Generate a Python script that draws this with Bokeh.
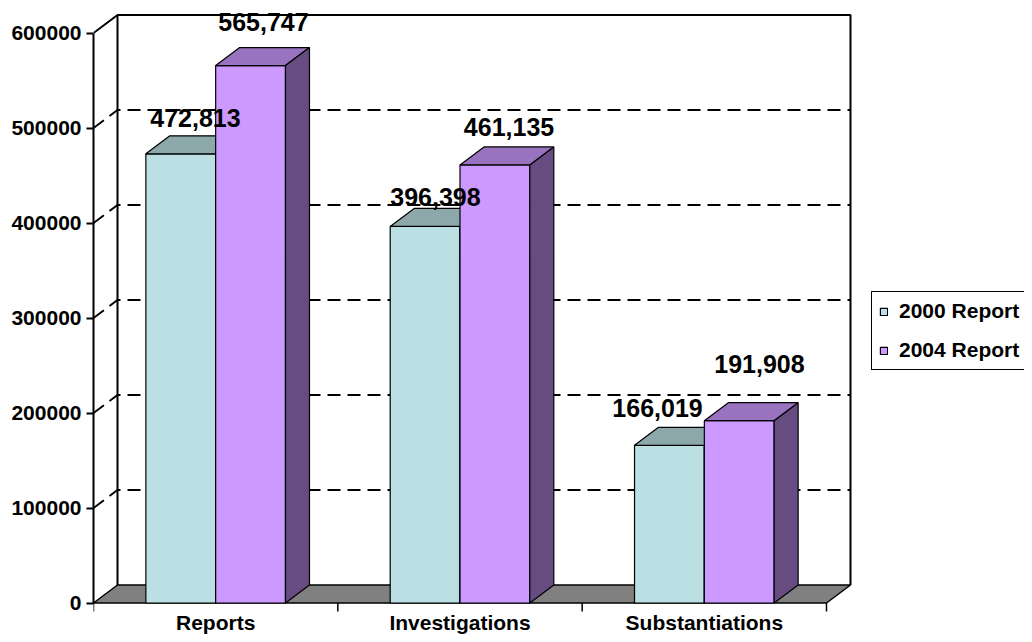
from bokeh.plotting import figure
from bokeh.models import (ColumnDataSource, Range1d, LinearAxis, FixedTicker,
                          BasicTickFormatter, Legend, LegendItem)
from bokeh.core.properties import value
from bokeh.embed import file_html
from bokeh.resources import INLINE

# ---------------- data ----------------
categories = ["Reports", "Investigations", "Substantiations"]
series_names = ["2000 Report", "2004 Report"]
values_2000 = [472813, 396398, 166019]
values_2004 = [565747, 461135, 191908]
y_ticks = [0, 100000, 200000, 300000, 400000, 500000, 600000]

# ---------------- styling / layout ----------------
FONT = "Liberation Sans"
W, H = 1024, 634
FRAME_LEFT = 93
PX_PER_CAT = 733 / 3.0           # px per category unit
PX_PER_VAL = 570 / 600000.0      # px per value unit
ZERO_FROM_BOTTOM = 31.5          # px from frame bottom to value 0
DEPTH_X_PX, DEPTH_Y_PX = 24, 18  # 3-D depth offset in px
BAR_W = 1 / 3.5                  # gap width 150 %
FIRST_OFF = 0.75 * BAR_W

front_cols = ["#BBE0E3", "#CC99FF"]
top_cols = ["#8CA8AA", "#9973BF"]
side_cols = ["#5E7072", "#664C80"]
floor_col = "#808080"

# label offsets in px (x shift, rise above the bar's front top)
label_dx = [14.7, 12.9, 10.4, 14.1, -11.9, 20.2]
label_rise = [35.8, 44.0, 29.9, 37.9, 37.3, 56.2]

frame_w = W - FRAME_LEFT
frame_h = H
n_cat = len(categories)
x_range = Range1d(0, frame_w / PX_PER_CAT)
y_range = Range1d(-ZERO_FROM_BOTTOM / PX_PER_VAL, (frame_h - ZERO_FROM_BOTTOM) / PX_PER_VAL)
dx = DEPTH_X_PX / PX_PER_CAT
dy = DEPTH_Y_PX / PX_PER_VAL
ymax = y_ticks[-1]

p = figure(width=W, height=H, x_range=x_range, y_range=y_range,
           output_backend="svg", toolbar_location=None,
           x_axis_type=None, y_axis_type=None,
           min_border_left=FRAME_LEFT, min_border_right=0,
           min_border_top=0, min_border_bottom=0)
p.outline_line_color = None
p.background_fill_color = "white"
p.border_fill_color = "white"

# ---------------- walls ----------------
p.patch([dx, n_cat + dx, n_cat + dx, dx], [dy, dy, ymax + dy, ymax + dy],
        fill_color="white", line_color=None)
p.line([0, dx, n_cat + dx, n_cat + dx], [ymax, ymax + dy, ymax + dy, dy],
       line_color="black", line_width=2)
p.line([dx, dx], [dy, ymax + dy], line_color="black", line_width=2)

# dashed gridlines on left wall + back wall
grid_levels = [t for t in y_ticks if 0 < t < ymax]
p.multi_line(xs=[[0, dx, n_cat + dx] for _ in grid_levels],
             ys=[[t, t + dy, t + dy] for t in grid_levels],
             line_color="black", line_width=2, line_dash="13 7")

# floor
p.patch([0, n_cat, n_cat + dx, dx], [0, 0, dy, dy],
        fill_color=floor_col, line_color="black", line_width=1.5)

# ---------------- bars ----------------
series_vals = [values_2000, values_2004]
fronts = []
for s, vals in enumerate(series_vals):
    lefts = [i + FIRST_OFF + s * BAR_W for i in range(n_cat)]
    rights = [l + BAR_W for l in lefts]
    fr = p.quad(left=lefts, right=rights, bottom=[0] * n_cat, top=vals,
                fill_color=front_cols[s], line_color="black", line_width=1.2)
    fronts.append(fr)
    p.patches(xs=[[l, r, r + dx, l + dx] for l, r in zip(lefts, rights)],
              ys=[[v, v, v + dy, v + dy] for v in vals],
              fill_color=top_cols[s], line_color="black", line_width=1.2)
    p.patches(xs=[[r, r + dx, r + dx, r] for r in rights],
              ys=[[0, dy, v + dy, v] for v in vals],
              fill_color=side_cols[s], line_color="black", line_width=1.2)

# ---------------- data labels ----------------
lx, ly, lt = [], [], []
for i in range(n_cat):
    for s, vals in enumerate(series_vals):
        lx.append(i + FIRST_OFF + s * BAR_W + BAR_W / 2)
        ly.append(vals[i])
        lt.append(f"{vals[i]:,}")
lsrc = ColumnDataSource(dict(x=lx, y=ly, text=lt,
                             xo=label_dx, yo=[-r for r in label_rise]))
p.text(x="x", y="y", text="text", x_offset="xo", y_offset="yo", source=lsrc,
       text_align="center", text_baseline="middle",
       text_font=value(FONT), text_font_style="bold",
       text_font_size="25px", text_color="black")

# ---------------- category axis (labels + boundary ticks) ----------------
p.segment(x0=list(range(n_cat + 1)), y0=[0] * (n_cat + 1),
          x1=list(range(n_cat + 1)), y1=[-8.5 / PX_PER_VAL] * (n_cat + 1),
          line_color="black", line_width=1.5)
p.text(x=[i + 0.5 for i in range(n_cat)], y=[0] * n_cat, text=categories,
       y_offset=19.5, text_align="center", text_baseline="middle",
       text_font=value(FONT), text_font_style="bold",
       text_font_size="21px", text_color="black")

# ---------------- value axis ----------------
yax = LinearAxis(ticker=FixedTicker(ticks=y_ticks),
                 formatter=BasicTickFormatter(use_scientific=False),
                 bounds=(0, ymax))
yax.axis_line_width = 2
yax.axis_line_color = "black"
yax.major_tick_line_width = 2
yax.major_tick_out = 7
yax.major_tick_in = 0
yax.minor_tick_line_color = None
yax.major_label_standoff = 5
yax.major_label_text_font = FONT
yax.major_label_text_font_style = "bold"
yax.major_label_text_font_size = "21px"
yax.major_label_text_color = "black"
p.add_layout(yax, "left")

# ---------------- legend ----------------
legend = Legend(items=[LegendItem(label=series_names[s], renderers=[fronts[s]])
                       for s in range(2)],
                location=(778, 264),
                glyph_width=9, glyph_height=9,
                label_standoff=11, label_height=24, spacing=15, padding=7,
                label_text_font=FONT, label_text_font_style="bold",
                label_text_font_size="21px", label_text_color="black",
                border_line_color="black", border_line_width=1.5,
                border_line_alpha=1.0,
                background_fill_color="white", background_fill_alpha=1.0)
p.add_layout(legend)

open("out.html", "w").write(file_html(p, INLINE))
